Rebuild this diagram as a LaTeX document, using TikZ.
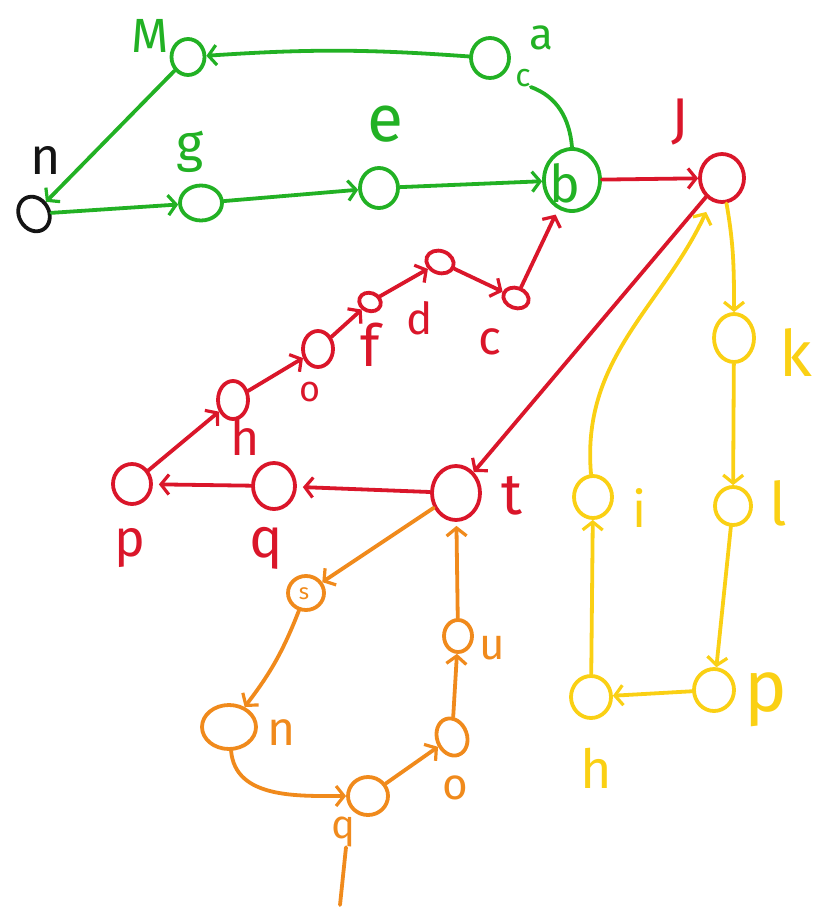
\documentclass[tikz,border=0pt]{standalone}
\usepackage{fontspec}
\setmainfont{Fira Sans}
\usetikzlibrary{arrows.meta,shapes.geometric}
\definecolor{cg}{RGB}{34,177,36}
\definecolor{cr}{RGB}{218,22,42}
\definecolor{co}{RGB}{240,138,28}
\definecolor{cy}{RGB}{250,208,20}
\definecolor{ck}{RGB}{20,20,20}
\newcommand\hwsize[1]{\fontsize{#1}{#1}\selectfont}
\tikzset{
  st/.style={draw=#1, line width=3.8pt, ellipse, inner sep=0pt},
  lab/.style={text=#1, inner sep=0pt, anchor=center},
  con/.style={draw=#1, line width=3.8pt, line cap=round,
     -{Straight Barb[length=8pt,width=20pt,line width=3.2pt]}},
  plain/.style={draw=#1, line width=3.8pt, line cap=round},
}
\begin{document}
\begin{tikzpicture}[x=1pt,y=-1pt]
\useasboundingbox (0,0) rectangle (835,917);
% ---------- green ----------
\node[st=cg, minimum width=33pt, minimum height=36pt] (M) at (188,57) {};
\node[st=cg, minimum width=38pt, minimum height=40pt] (a) at (490,58) {};
\node[st=ck, minimum width=30pt, minimum height=36pt, rotate=30] (n) at (34,214) {};
\node[st=cg, minimum width=42pt, minimum height=35pt] (g) at (201,203) {};
\node[st=cg, minimum width=38pt, minimum height=40pt] (e) at (379,188) {};
\node[st=cg, minimum width=56pt, minimum height=62pt] (b) at (572,180) {};
\node[lab=cg] (blab) at (565,183) {\hwsize{52}b};
\node[lab=cg] (Mlab) at (150,36) {\hwsize{48}M};
\node[lab=cg] (alab) at (541,38) {\hwsize{44}a};
\node[lab=cg] (clab) at (523,78) {\hwsize{32}c};
\node[lab=ck] (nlab) at (46,160) {\hwsize{52}n};
\node[lab=cg] (glab) at (190,152) {\hwsize{52}g};
\node[lab=cg] (elab) at (385,124) {\hwsize{66}e};
\draw[con=cg] (a) to[bend right=4] (M);
\draw[con=cg] (M) -- (n);
\draw[con=cg] (n) -- (g);
\draw[con=cg] (g) -- (e);
\draw[con=cg] (e) -- (b);
\draw[plain=cg] (b.north) to[out=95,in=-20] (clab.south east);
% ---------- red ----------
\node[st=cr, minimum width=44pt, minimum height=48pt] (J) at (722,178) {};
\node[lab=cr] (Jlab) at (680,122) {\hwsize{56}J};
\node[st=cr, minimum width=26pt, minimum height=20pt, rotate=-20] (c) at (516,298) {};
\node[st=cr, minimum width=28pt, minimum height=22pt, rotate=-20] (d) at (440,262) {};
\node[st=cr, minimum width=22pt, minimum height=18pt, rotate=-20] (f) at (370,302) {};
\node[st=cr, minimum width=30pt, minimum height=36pt] (o) at (318,349) {};
\node[st=cr, minimum width=30pt, minimum height=38pt] (h) at (233,400) {};
\node[st=cr, minimum width=38pt, minimum height=40pt] (p) at (132,484) {};
\node[st=cr, minimum width=42pt, minimum height=46pt] (q) at (274,486) {};
\node[st=cr, minimum width=48pt, minimum height=54pt] (t) at (456,493) {};
\node[lab=cr] (clab2) at (490,342) {\hwsize{48}c};
\node[lab=cr] (dlab) at (420,318) {\hwsize{44}d};
\node[lab=cr] (flab) at (370,345) {\hwsize{58}f};
\node[lab=cr] (olab) at (310,392) {\hwsize{36}o};
\node[lab=cr] (hlab) at (245,437) {\hwsize{50}h};
\node[lab=cr] (plab) at (130,548) {\hwsize{52}p};
\node[lab=cr] (qlab) at (266,548) {\hwsize{56}q};
\node[lab=cr] (tlab) at (512,496) {\hwsize{58}t};
\draw[con=cr] (b) -- (J);
\draw[con=cr] (J) -- (t);
\draw[con=cr, shorten >=6pt] (c) -- (b);
\draw[con=cr] (d) -- (c);
\draw[con=cr] (f) -- (d);
\draw[con=cr] (o) -- (f);
\draw[con=cr] (h) -- (o);
\draw[con=cr] (p) -- (h);
\draw[con=cr, shorten >=6pt] (q) -- (p);
\draw[con=cr, shorten >=6pt] (t) -- (q);
% ---------- orange ----------
\node[st=co, minimum width=36pt, minimum height=34pt] (s) at (306,593) {};
\node[lab=co] (slab) at (304,594) {\hwsize{22}s};
\node[st=co, minimum width=54pt, minimum height=44pt] (r) at (229,727) {};
\node[st=co, minimum width=40pt, minimum height=38pt] (q2) at (368,796) {};
\node[st=co, minimum width=30pt, minimum height=38pt, rotate=20] (o2) at (452,737) {};
\node[st=co, minimum width=28pt, minimum height=32pt] (u) at (458,636) {};
\node[lab=co] (rlab) at (282,733) {\hwsize{48}n};
\node[lab=co] (q2lab) at (343,832) {\hwsize{40}q};
\node[lab=co] (o2lab) at (455,788) {\hwsize{44}o};
\node[lab=co] (ulab) at (492,648) {\hwsize{44}u};
\coordinate (qtail) at (340,905);
\draw[con=co] (t) -- (s);
\draw[con=co] (s) to[bend left=8] (r);
\draw[con=co] (r) to[out=-85,in=180] (q2);
\draw[con=co] (q2) -- (o2);
\draw[con=co] (o2) -- (u);
\draw[con=co, shorten >=4pt] (u) -- (t);
\draw[plain=co] (q2lab.south) ++(3,0) -- (qtail);
% ---------- yellow ----------
\node[st=cy, minimum width=40pt, minimum height=48pt] (k) at (734,338) {};
\node[st=cy, minimum width=36pt, minimum height=38pt] (l) at (733,506) {};
\node[st=cy, minimum width=40pt, minimum height=42pt] (P) at (714,690) {};
\node[st=cy, minimum width=40pt, minimum height=42pt] (h2) at (591,697) {};
\node[st=cy, minimum width=38pt, minimum height=42pt] (i) at (593,497) {};
\node[lab=cy] (klab) at (796,352) {\hwsize{64}k};
\node[lab=cy] (llab) at (778,503) {\hwsize{60}l};
\node[lab=cy] (Plab) at (766,700) {\hwsize{72}p};
\node[lab=cy] (h2lab) at (596,768) {\hwsize{54}h};
\node[lab=cy] (ilab) at (640,508) {\hwsize{50}i};
\draw[con=cy] (J) to[out=-80,in=90] (k);
\draw[con=cy] (k) -- (l);
\draw[con=cy] (l) -- (P);
\draw[con=cy] (P) -- (h2);
\draw[con=cy] (h2) -- (i);
\draw[con=cy, shorten >=12pt] (i) to[out=95,in=-115] (J);
\end{tikzpicture}
\end{document}
